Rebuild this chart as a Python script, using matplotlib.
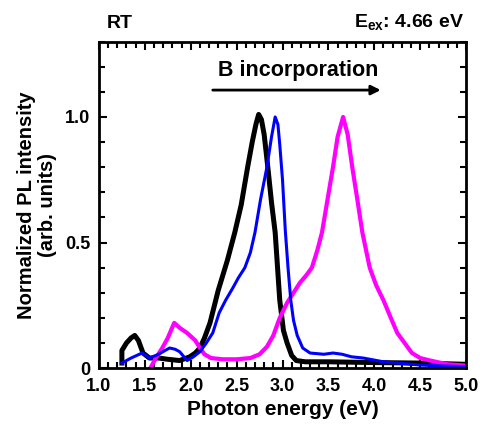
import matplotlib
matplotlib.use("Agg")
import matplotlib.pyplot as plt
from matplotlib.ticker import MultipleLocator, FuncFormatter

plt.rcParams['font.family'] = ['Liberation Sans', 'DejaVu Sans']
plt.rcParams['font.weight'] = 'bold'
plt.rcParams['mathtext.fontset'] = 'custom'
plt.rcParams['mathtext.bf'] = 'Liberation Sans:bold'
plt.rcParams['mathtext.rm'] = 'Liberation Sans:bold'

# PL spectra (photon energy in eV, normalized intensity)
e_black = [1.25, 1.25, 1.30, 1.35, 1.39, 1.43, 1.48, 1.55, 1.65, 1.75, 1.88, 1.99,
           2.05, 2.10, 2.15, 2.21, 2.30, 2.40, 2.48, 2.55, 2.62, 2.67, 2.71, 2.74,
           2.77, 2.80, 2.84, 2.88, 2.92, 2.97, 3.01, 3.05, 3.10, 3.15, 3.25, 3.5,
           4.0, 4.5, 5.0]
i_black = [0.02, 0.07, 0.10, 0.12, 0.13, 0.11, 0.06, 0.04, 0.04, 0.035, 0.03, 0.045,
           0.06, 0.08, 0.12, 0.18, 0.31, 0.43, 0.54, 0.65, 0.80, 0.90, 0.97, 1.01,
           0.99, 0.93, 0.80, 0.66, 0.54, 0.27, 0.15, 0.10, 0.05, 0.03, 0.025, 0.025,
           0.022, 0.02, 0.015]

e_blue = [1.25, 1.35, 1.47, 1.55, 1.65, 1.72, 1.77, 1.83, 1.88, 1.96, 2.03, 2.10,
          2.17, 2.24, 2.31, 2.38, 2.46, 2.52, 2.59, 2.65, 2.70, 2.76, 2.83, 2.88,
          2.92, 2.95, 2.97, 3.00, 3.03, 3.06, 3.09, 3.12, 3.16, 3.22, 3.30, 3.45,
          3.55, 3.65, 3.75, 3.88, 4.1, 4.5, 5.0]
i_blue = [0.02, 0.04, 0.06, 0.04, 0.055, 0.07, 0.08, 0.075, 0.065, 0.03, 0.045, 0.065,
          0.10, 0.14, 0.22, 0.27, 0.32, 0.36, 0.40, 0.46, 0.54, 0.67, 0.80, 0.92,
          1.0, 0.97, 0.89, 0.75, 0.55, 0.40, 0.27, 0.19, 0.13, 0.08, 0.06, 0.055,
          0.06, 0.055, 0.045, 0.04, 0.025, 0.012, 0.005]

e_mag = [1.56, 1.62, 1.69, 1.75, 1.82, 1.88, 1.96, 2.05, 2.10, 2.15, 2.22, 2.35,
         2.5, 2.65, 2.75, 2.83, 2.90, 2.97, 3.05, 3.12, 3.19, 3.26, 3.32, 3.38,
         3.43, 3.49, 3.55, 3.60, 3.66, 3.71, 3.76, 3.82, 3.87, 3.95, 4.02, 4.10,
         4.18, 4.25, 4.33, 4.41, 4.50, 4.61, 4.8, 5.0]
i_mag = [0.0, 0.04, 0.08, 0.12, 0.18, 0.16, 0.14, 0.11, 0.08, 0.055, 0.04, 0.035,
         0.035, 0.04, 0.055, 0.085, 0.13, 0.20, 0.26, 0.30, 0.34, 0.37, 0.40, 0.47,
         0.54, 0.67, 0.80, 0.92, 1.0, 0.93, 0.80, 0.66, 0.54, 0.40, 0.33, 0.27,
         0.20, 0.14, 0.10, 0.06, 0.04, 0.03, 0.015, 0.01]

fig = plt.figure(figsize=(4.85, 4.29), dpi=100)
ax = fig.add_axes([0.204, 0.142, 0.757, 0.761])

ax.plot(e_black, i_black, color='black', lw=3.6)
ax.plot(e_mag, i_mag, color='#ff00ff', lw=3.0)
ax.plot(e_blue, i_blue, color='#0000ff', lw=2.2)

ax.set_xlim(1.0, 5.0)
ax.set_ylim(0, 1.3)
ax.xaxis.set_major_locator(MultipleLocator(0.5))
ax.xaxis.set_minor_locator(MultipleLocator(0.1))
ax.yaxis.set_major_locator(MultipleLocator(0.5))
ax.yaxis.set_minor_locator(MultipleLocator(0.1))
ax.yaxis.set_major_formatter(FuncFormatter(lambda v, p: '0' if abs(v) < 1e-9 else f'{v:.1f}'))
ax.xaxis.set_major_formatter(FuncFormatter(lambda v, p: f'{v:.1f}'))
ax.tick_params(which='both', direction='in', top=True, right=True, width=1.5,
               labelsize=13)
ax.tick_params(axis='x', pad=7)
ax.tick_params(axis='y', pad=6)
ax.tick_params(which='major', length=6)
ax.tick_params(which='minor', length=4)
for s in ax.spines.values():
    s.set_linewidth(2)

ax.set_xlabel('Photon energy (eV)', fontsize=15, fontweight='bold', labelpad=4)
ax.set_ylabel('Normalized PL intensity\n(arb. units)', fontsize=14.5, fontweight='bold',
              labelpad=6, linespacing=1.15)

ax.annotate('', xy=(4.10, 1.107), xytext=(2.21, 1.107),
            arrowprops=dict(arrowstyle='-|>', color='black', lw=2.0, mutation_scale=14))
ax.text(3.17, 1.165, 'B incorporation', ha='center', va='baseline', fontsize=15.5,
        fontweight='bold')

fig.text(107 / 485, 0.935, 'RT', ha='left', va='baseline', fontsize=14, fontweight='bold')
fig.text(464 / 485, 0.935, r'E$_{\mathbf{ex}}$: 4.66 eV', ha='right', va='baseline',
         fontsize=14, fontweight='bold')

fig.savefig('out.png', dpi=100)
